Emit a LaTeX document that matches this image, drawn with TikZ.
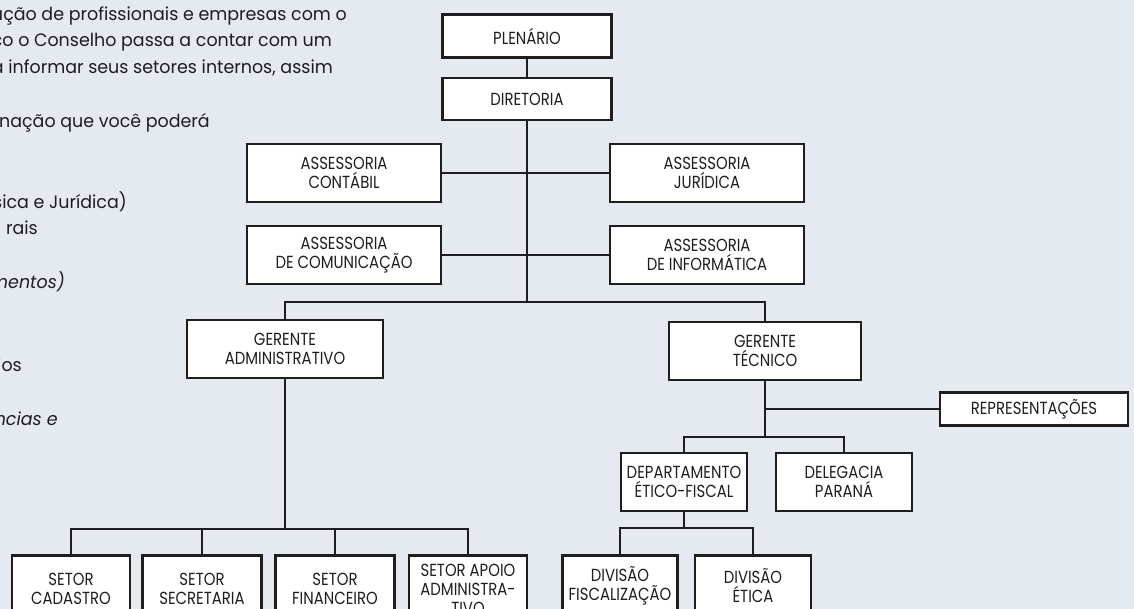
\documentclass[tikz,border=0pt]{standalone}
\usepackage{fontspec}
\setmainfont[FakeStretch=0.97]{Poppins}
\newfontfamily\boxfont[FakeStretch=0.85]{Poppins}
\usetikzlibrary{positioning}
\definecolor{paper}{RGB}{229,233,240}
\definecolor{ink}{RGB}{30,30,32}

\begin{document}
\begin{tikzpicture}
    [x=1pt, y=-1pt,
    unit/.style={draw=ink, line width=2.6pt, fill=white, inner sep=0pt, align=center,
      text=ink, font=\boxfont\fontsize{17.5}{19}\selectfont},
    link/.style={draw=ink, line width=2.2pt},
    prose/.style={anchor=base east, inner sep=0pt, text=ink, font=\fontsize{18}{20}\selectfont}]

    \def\W{1134}
    \def\H{609}

    \useasboundingbox (0,0) rectangle (\W,\H);
    \clip (0,0) rectangle (\W,\H);
    \fill[paper] (0,0) rectangle (\W,\H);

    % Text of the page, cut at the left
    \node[prose] (t1) at (347,21) {ação de profissionais e empresas com o};
    \node[prose] (t2) at (332,47) {ço o Conselho passa a contar com um};
    \node[prose] (t3) at (333,74) {á informar seus setores internos, assim};
    \node[prose] (t4) at (210,128) {nação que você poderá};
    \node[prose] (t5) at (127,209) {sica e Jurídica)};
    \node[prose] (t6) at (38,235) {rais};
    \node[prose, font=\itshape\fontsize{18}{20}\selectfont] (t7) at (65,289) {mentos)};
    \node[prose] (t8) at (22,371) {ios};
    \node[prose, font=\itshape\fontsize{18}{20}\selectfont] (t9) at (58,425) {ncias e};

    % Draw the boxes
    \node[unit, minimum width=169pt, minimum height=43pt] (plen) at (527,36) {PLENÁRIO};
    \node[unit, minimum width=169pt, minimum height=42pt] (dir) at (527,99) {DIRETORIA};
    \node[unit, minimum width=194pt, minimum height=58pt] (contab) at (344,173) {ASSESSORIA\\CONTÁBIL};
    \node[unit, minimum width=194pt, minimum height=58pt] (jurid) at (707,173) {ASSESSORIA\\JURÍDICA};
    \node[unit, minimum width=194pt, minimum height=58pt] (comun) at (344,255) {ASSESSORIA\\DE COMUNICAÇÃO};
    \node[unit, minimum width=194pt, minimum height=58pt] (inform) at (707,255) {ASSESSORIA\\DE INFORMÁTICA};
    \node[unit, minimum width=196pt, minimum height=58pt] (gadm) at (285,349) {GERENTE\\ADMINISTRATIVO};
    \node[unit, minimum width=192pt, minimum height=58pt] (gtec) at (765,351) {GERENTE\\TÉCNICO};
    \node[unit, minimum width=188pt, minimum height=33pt] (repr) at (1034,409) {REPRESENTAÇÕES};
    \node[unit, minimum width=126pt, minimum height=58pt] (dept) at (684,482) {DEPARTAMENTO\\ÉTICO-FISCAL};
    \node[unit, minimum width=136pt, minimum height=58pt] (deleg) at (844,482) {DELEGACIA\\PARANÁ};
    \node[unit, anchor=north, minimum width=115pt, minimum height=60pt] (divfis) at (620,554) {DIVISÃO\\FISCALIZAÇÃO};
    \node[unit, anchor=north, minimum width=116pt, minimum height=60pt] (divet) at (753,554) {DIVISÃO\\ÉTICA};
    \node[unit, anchor=north, minimum width=118pt, minimum height=68pt] (cad) at (71,554) {SETOR\\CADASTRO};
    \node[unit, anchor=north, minimum width=119pt, minimum height=68pt] (secr) at (202,554) {SETOR\\SECRETARIA};
    \node[unit, anchor=north, minimum width=119pt, minimum height=68pt] (fin) at (335,554) {SETOR\\FINANCEIRO};
    \node[unit, anchor=north, minimum width=118pt, minimum height=68pt] (apoio) at (468,554) {SETOR APOIO\\ADMINISTRA-\\TIVO};

    % Junctions of the lines
    \coordinate (mainbar) at (527,302);
    \coordinate (tecbar) at (765,437);
    \coordinate (divbar) at (684,528);
    \coordinate (admbar) at (285,529);

    % Draw the lines
    \draw[link] (plen.south) -- (dir.north);
    \draw[link] (dir.south) -- (mainbar);
    \draw[link] (contab.east) -- (jurid.west);
    \draw[link] (comun.east) -- (inform.west);
    \draw[link] (gadm.north) |- (mainbar) -| (gtec.north);
    \draw[link] (gtec.south) -- (tecbar);
    \draw[link] (gtec.south |- repr.west) -- (repr.west);
    \draw[link] (dept.north) |- (tecbar) -| (deleg.north);
    \draw[link] (dept.south) -- (divbar);
    \draw[link] (divfis.north) |- (divbar) -| (divet.north);
    \draw[link] (gadm.south) -- (admbar);
    \foreach \n in {cad,secr,fin,apoio}
      \draw[link] (admbar) -| (\n.north);

\end{tikzpicture}
\end{document}
